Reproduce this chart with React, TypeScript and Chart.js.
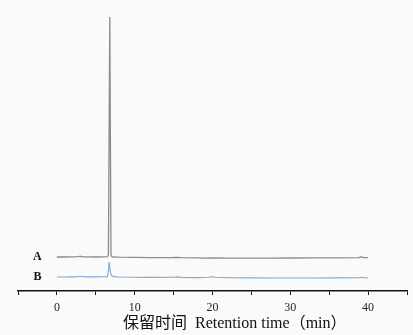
import React, { useEffect, useRef } from "react";
import { Chart, registerables } from "chart.js";

Chart.register(...registerables);

// Retention time (min) and detector response for trace A (standard) and B (sample)
const timesA = [0, 1, 2, 2.8, 3.0, 3.2, 4, 5, 6, 6.5, 6.62, 6.8, 6.95, 7.05, 7.3, 8, 10, 12, 15, 15.5, 16, 18, 19, 20, 22, 25, 28, 30, 33, 36, 38.8, 39.1, 39.4, 40];
const signalA = [0, 0, 0.1, 0.3, 0.8, 0.2, 0.1, 0.0, 0.1, 0.3, 2, 240, 3, 0.4, 0.0, -0.2, -0.4, -0.6, -0.5, -0.3, -0.6, -0.9, -1.2, -1.0, -1.1, -1.2, -1.1, -1.0, -0.9, -0.8, -0.6, 0.3, -0.6, -0.7];

const timesB = [0, 1, 2, 2.8, 3.0, 3.3, 4, 5, 6, 6.5, 6.62, 6.72, 6.85, 7.0, 7.3, 8, 10, 12, 15, 15.5, 16, 18, 19.5, 20, 20.5, 22, 25, 28, 30, 33, 36, 38.8, 39.1, 39.4, 40];
const signalB = [0, 0, 0.1, 0.3, 0.8, 0.2, 0.1, 0.1, 0.2, 0.3, 6, 15, 6, 1.5, 0.4, 0.0, -0.2, -0.4, -0.3, 0.1, -0.4, -0.6, -0.3, 0.2, -0.3, -0.7, -0.9, -1.0, -1.0, -1.0, -0.9, -0.7, -0.2, -0.7, -0.8];

const traceNames = ["A", "B"];
const traceBaselines = [34, 14];
const xTicks = [0, 10, 20, 30, 40];
const xTitle = "保留时间  Retention time（min）";

const SERIF = "'Liberation Serif', 'Noto Sans CJK SC', serif";

export default function App() {
  const ref = useRef<HTMLCanvasElement | null>(null);

  useEffect(() => {
    if (!ref.current) return;
    const series = [
      { t: timesA, v: signalA, color: "#8c8c8c", width: 1.3 },
      { t: timesB, v: signalB, color: "#7fa9cf", width: 1.1 },
    ];
    const datasets = series.map((s, i) => ({
      label: traceNames[i],
      data: s.t.map((t, k) => ({ x: t, y: s.v[k] + traceBaselines[i] })),
      borderColor: s.color,
      borderWidth: s.width,
      pointRadius: 0,
      tension: 0,
      fill: false,
    }));

    const labelPlugin = {
      id: "traceLabels",
      afterDatasetsDraw(chart: any) {
        const { ctx, scales, chartArea } = chart;
        ctx.save();
        ctx.fillStyle = "#111";
        ctx.font = `bold 12px ${SERIF}`;
        ctx.textAlign = "center";
        ctx.textBaseline = "middle";
        traceNames.forEach((n, i) => {
          const x = scales.x.getPixelForValue(-2.5);
          const y = scales.y.getPixelForValue(traceBaselines[i]);
          ctx.fillText(n, x, y);
        });
        // axis title
        ctx.font = `16px ${SERIF}`;
        ctx.textAlign = "left";
        ctx.fillStyle = "#111";
        ctx.fillText(xTitle, chartArea.left + 105, chartArea.bottom + 33);
        ctx.restore();
      },
    };

    const chart = new Chart(ref.current, {
      type: "line",
      data: { datasets },
      plugins: [labelPlugin],
      options: {
        animation: false,
        responsive: false,
        layout: { padding: { top: 10, left: 18, right: 3, bottom: 0 } },
        plugins: { legend: { display: false }, tooltip: { enabled: false } },
        scales: {
          x: {
            type: "linear",
            min: -5,
            max: 45,
            afterFit: (scale: any) => {
              scale.height = 44;
            },
            border: { display: true, color: "#111", width: 1.5 },
            grid: {
              display: true,
              drawOnChartArea: false,
              drawTicks: true,
              tickLength: 4,
              color: "#111",
              lineWidth: 1,
            },
            ticks: {
              stepSize: 5,
              padding: 6,
              color: "#222",
              maxRotation: 0,
              autoSkip: false,
              font: { family: SERIF, size: 12 },
              callback: (v: any) => (xTicks.includes(Number(v)) ? String(v) : ""),
            },
            title: { display: false },
          },
          y: {
            type: "linear",
            display: false,
            min: 0,
            max: 281,
          },
        },
      },
    });
    return () => chart.destroy();
  }, []);

  return (
    <div style={{ position: "absolute", left: 0, top: 0, width: 413, height: 335, background: "#fafafa" }}>
      <canvas ref={ref} width={413} height={335} style={{ display: "block" }} />
    </div>
  );
}
